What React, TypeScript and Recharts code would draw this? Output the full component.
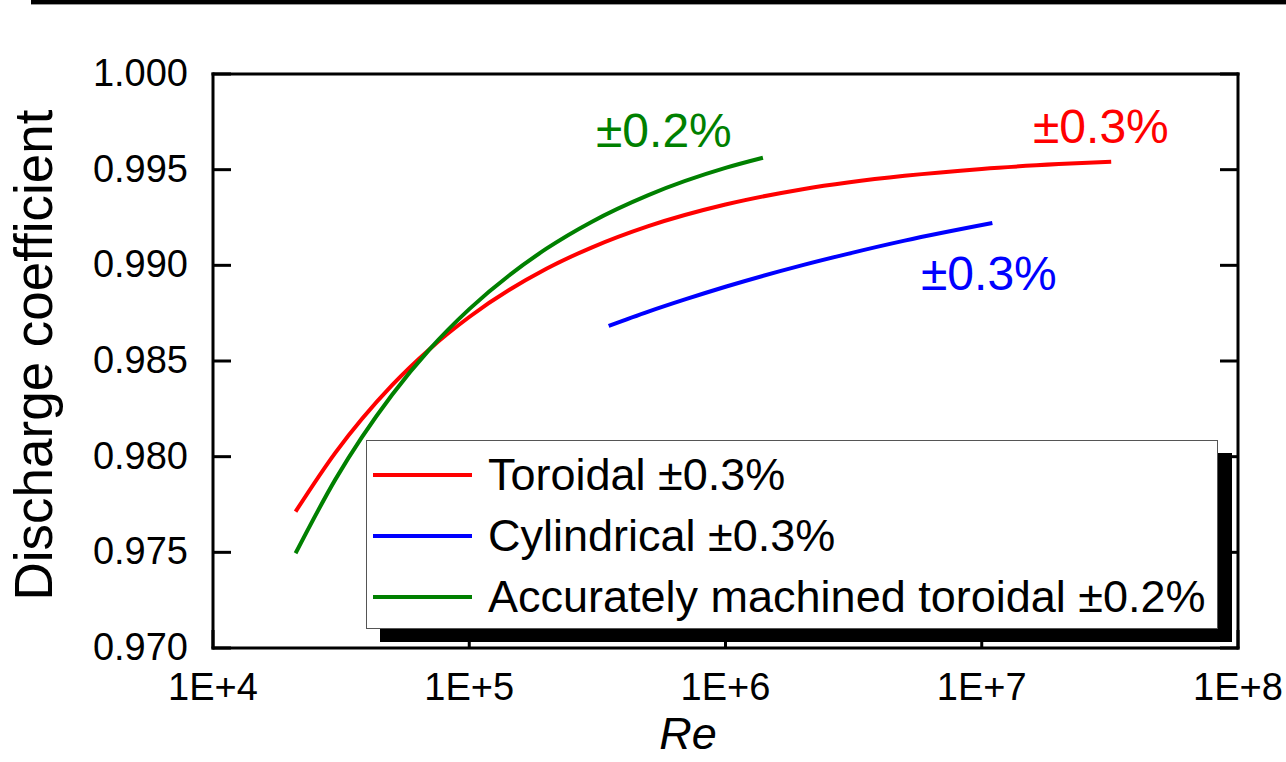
import React from "react";
import { LineChart, Line, XAxis, YAxis, Legend } from "recharts";

const FONT = "'Liberation Sans', Arial, Helvetica, sans-serif";

// series (Re vs discharge coefficient)
const toroidalRe = [21000, 30000, 50000, 70000, 100000, 200000, 300000, 500000, 1000000, 2000000, 5000000, 10000000, 20000000, 32000000];
const toroidalCd = [0.97713, 0.9802, 0.98374, 0.98562, 0.9873, 0.98982, 0.99093, 0.99205, 0.99318, 0.99398, 0.99468, 0.99504, 0.99529, 0.99542];

const cylindricalRe = [350000, 500000, 700000, 1000000, 2000000, 3000000, 5000000, 11000000];
const cylindricalCd = [0.98683, 0.98758, 0.98823, 0.98888, 0.99001, 0.9906, 0.99129, 0.99221];

const accurateRe = [21000, 30000, 50000, 70000, 100000, 200000, 300000, 500000, 1000000, 1400000];
const accurateCd = [0.97495, 0.9788, 0.98324, 0.98561, 0.98771, 0.99087, 0.99227, 0.99367, 0.99509, 0.99562];

const seriesNames = ["Toroidal ±0.3%", "Cylindrical ±0.3%", "Accurately machined toroidal ±0.2%"];
const seriesColors = ["#ff0000", "#0000ff", "#008000"];

const xTicks = [10000, 100000, 1000000, 10000000, 100000000];
const yTicks = [0.97, 0.975, 0.98, 0.985, 0.99, 0.995, 1.0];

const toPoints = (re: number[], cd: number[]) => re.map((r, i) => ({ re: r, cd: cd[i] }));
const seriesData = [
  toPoints(toroidalRe, toroidalCd),
  toPoints(cylindricalRe, cylindricalCd),
  toPoints(accurateRe, accurateCd),
];

if (typeof document !== "undefined") document.body.style.margin = "0";

const TICK = 18;
const fmtX = (v: number) => `1E+${Math.round(Math.log10(v))}`;

const BottomTick = (props: any) => {
  const { x, y, payload } = props;
  return (
    <g>
      <line x1={x} y1={y} x2={x} y2={y - TICK} stroke="#000" strokeWidth={3} />
      <text x={x} y={y + 52} textAnchor="middle" fontSize={38} fontFamily={FONT} fill="#000">
        {fmtX(payload.value)}
      </text>
    </g>
  );
};

const TopTick = (props: any) => {
  const { x, y } = props;
  return <line x1={x} y1={y} x2={x} y2={y + TICK} stroke="#000" strokeWidth={3} />;
};

const LeftTick = (props: any) => {
  const { x, y, payload } = props;
  return (
    <g>
      <line x1={x} y1={y} x2={x + TICK} y2={y} stroke="#000" strokeWidth={3} />
      <text x={x - 25} y={y + 12} textAnchor="end" fontSize={38} fontFamily={FONT} fill="#000">
        {Number(payload.value).toFixed(3)}
      </text>
    </g>
  );
};

const RightTick = (props: any) => {
  const { x, y } = props;
  return <line x1={x} y1={y} x2={x - TICK} y2={y} stroke="#000" strokeWidth={3} />;
};

const YTitle = (props: any) => {
  const vb = props.viewBox;
  const cx = vb.x + 52;
  const cy = vb.y + vb.height / 2 - 6;
  return (
    <text x={cx} y={cy} transform={`rotate(-90, ${cx}, ${cy})`} textAnchor="middle" fontSize={53} fontFamily={FONT} fill="#000">
      Discharge coefficient
    </text>
  );
};

const XTitle = (props: any) => {
  const vb = props.viewBox;
  return (
    <text x={vb.x + 475} y={vb.y + 101} textAnchor="middle" fontSize={45} fontStyle="italic" fontFamily={FONT} fill="#000">
      Re
    </text>
  );
};

const LegendBox = () => (
  <div
    style={{
      width: 852,
      height: 189,
      boxSizing: "border-box",
      background: "#fff",
      border: "1px solid #555",
      boxShadow: "14px 13px 0 #000",
      paddingTop: 3,
    }}
  >
    {seriesNames.map((name, i) => (
      <div key={name} style={{ height: 61, display: "flex", alignItems: "center" }}>
        <svg width={99} height={6} style={{ marginLeft: 6, display: "block" }}>
          <line x1={0} y1={3} x2={99} y2={3} stroke={seriesColors[i]} strokeWidth={4} />
        </svg>
        <span style={{ marginLeft: 16, fontFamily: FONT, fontSize: 45, color: "#000", lineHeight: 1, whiteSpace: "nowrap" }}>
          {name}
        </span>
      </div>
    ))}
  </div>
);

const axisLine = { stroke: "#000", strokeWidth: 3, strokeLinecap: "square" as const };

export default function App() {
  return (
    <div style={{ position: "relative", width: 1286, height: 762, background: "#fff", overflow: "hidden" }}>
      <div style={{ position: "absolute", left: 31, top: 0, width: 1255, height: 4, background: "#000", zIndex: 5 }} />
      <div style={{ position: "absolute", left: 31, top: 4, width: 1255, height: 1, background: "#999", zIndex: 5 }} />
      <div style={{ position: "absolute", left: 0, top: 8 }}>
        <LineChart width={1286} height={754} margin={{ top: 0, right: 0, bottom: 0, left: 0 }}>
          <XAxis
            dataKey="re"
            type="number"
            scale="log"
            domain={[10000, 100000000]}
            ticks={xTicks}
            interval={0}
            allowDataOverflow
            height={114}
            tickSize={0}
            tickMargin={0}
            tickLine={false}
            tick={<BottomTick />}
            axisLine={axisLine}
            label={<XTitle />}
          />
          <XAxis
            xAxisId="top"
            orientation="top"
            type="number"
            scale="log"
            domain={[10000, 100000000]}
            ticks={xTicks}
            interval={0}
            allowDataOverflow
            height={66}
            tickSize={0}
            tickMargin={0}
            tickLine={false}
            tick={<TopTick />}
            axisLine={axisLine}
          />
          <YAxis
            type="number"
            domain={[0.97, 1.0]}
            ticks={yTicks}
            interval={0}
            allowDataOverflow
            width={213}
            tickSize={0}
            tickMargin={0}
            tickLine={false}
            tick={<LeftTick />}
            axisLine={axisLine}
            label={<YTitle />}
          />
          <YAxis
            yAxisId="right"
            orientation="right"
            type="number"
            domain={[0.97, 1.0]}
            ticks={yTicks}
            interval={0}
            allowDataOverflow
            width={48}
            tickSize={0}
            tickMargin={0}
            tickLine={false}
            tick={<RightTick />}
            axisLine={axisLine}
          />
          {seriesData.map((d, i) => (
            <Line
              key={seriesNames[i]}
              data={d}
              dataKey="cd"
              name={seriesNames[i]}
              type="monotone"
              stroke={seriesColors[i]}
              strokeWidth={4}
              dot={false}
              activeDot={false}
              isAnimationActive={false}
            />
          ))}
          <Legend
            layout="horizontal"
            verticalAlign="middle"
            align="center"
            content={<LegendBox />}
            wrapperStyle={{ left: 366, top: 432, width: 852, height: 189 }}
          />
        </LineChart>
      </div>
      <svg
        width={1286}
        height={300}
        style={{ position: "absolute", left: 0, top: 0, pointerEvents: "none" }}
      >
        <text x={596} y={147} fontSize={48} fontFamily={FONT} fill="#008000">±0.2%</text>
        <text x={1033} y={143} fontSize={48} fontFamily={FONT} fill="#ff0000">±0.3%</text>
        <text x={921} y={290} fontSize={48} fontFamily={FONT} fill="#0000ff">±0.3%</text>
      </svg>
    </div>
  );
}
